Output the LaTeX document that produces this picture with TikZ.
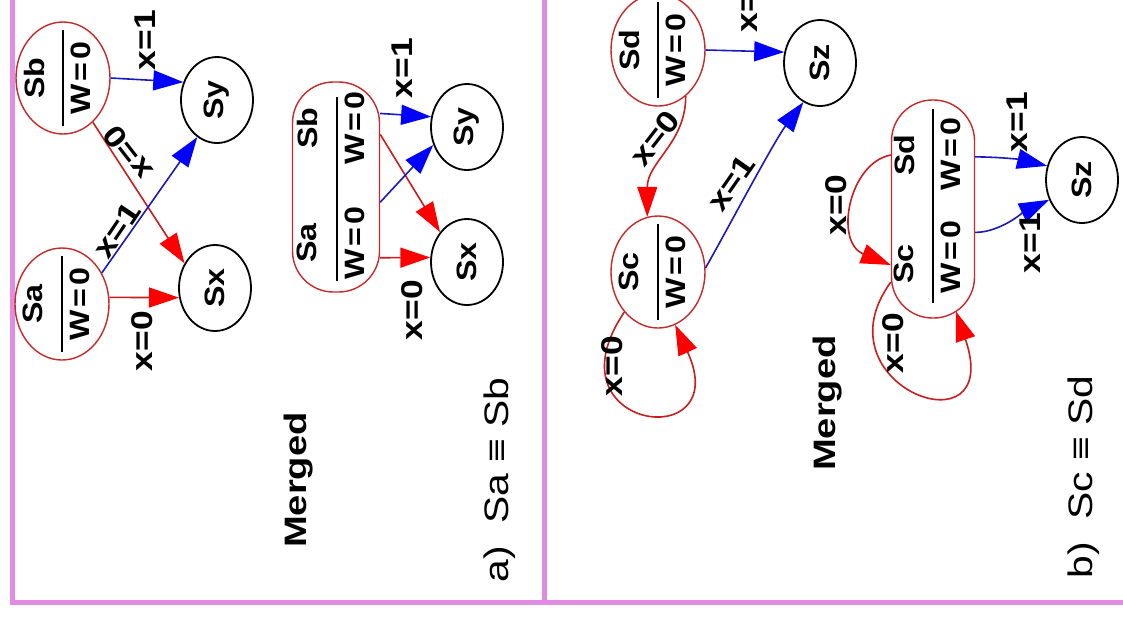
\documentclass[tikz,border=0pt]{standalone}
\usepackage{fontspec}
\setmainfont{Liberation Sans}
\usetikzlibrary{arrows.meta,shapes.geometric}

\definecolor{framec}{RGB}{225,140,225}
\definecolor{stred}{RGB}{200,40,40}
\definecolor{lnred}{RGB}{200,30,30}
\definecolor{lnblue}{RGB}{25,25,190}

\tikzset{
  stateR/.style={ellipse, draw=stred, line width=0.7pt, minimum width=47pt, minimum height=56pt, inner sep=0pt},
  stateK/.style={ellipse, draw=black, line width=0.9pt, minimum width=36pt, minimum height=43pt, inner sep=0pt},
  mergedbox/.style={rectangle, rounded corners=20.5pt, draw=stred, line width=0.7pt, inner sep=0pt},
  vlab/.style={rotate=90, xscale=1.15, font=\bfseries\fontsize{14}{16}\selectfont, inner sep=0pt},
  elab/.style={rotate=#1, xscale=1.18, font=\bfseries\fontsize{15}{17}\selectfont, inner sep=0pt},
  titlelab/.style={rotate=90, xscale=1.23, font=\bfseries\fontsize{15.5}{17}\selectfont, inner sep=0pt},
  caplab/.style={rotate=90, xscale=1.2, font=\fontsize{17}{19}\selectfont, inner sep=0pt},
  sepline/.style={line width=0.8pt},
  redge/.style={draw=lnred, line width=0.8pt, -{Triangle[length=15pt,width=10pt,color=red]}},
  bedge/.style={draw=lnblue, line width=0.8pt, -{Triangle[length=15pt,width=10pt,color=blue]}},
}

% output value written under a state name
\newcommand{\outval}{W\hspace{1.2pt}=\hspace{1.2pt}0}

% a state drawn as a circle with a name over the output value
\newcommand{\fracstate}[4]{%
  \node[stateR] (#1) at (#2,#3) {};
  \node[vlab] (#1-name) at ([xshift=-14.5pt]#1.center) {#4};
  \node[vlab] (#1-out) at ([xshift=9pt]#1.center) {\outval};
  \draw[sepline] ([yshift=24pt]#1.center) -- ([yshift=-24pt]#1.center);
}

\begin{document}
\begin{tikzpicture}[x=0.5pt,y=-0.5pt]
\useasboundingbox (0,0) rectangle (1123,618);
\clip (0,0) rectangle (1123,618);
\fill[white] (0,0) rectangle (1123,618);

% frame of the two panels
\draw[framec, line width=2.5pt] (12,-5) -- (12,602) -- (1130,602);
\draw[framec, line width=2.5pt] (544,-5) -- (544,602);

% ---------- panel a: before merging ----------
\fracstate{Sb}{63}{78}{Sb}
\fracstate{Sa}{62}{304}{Sa}
\node[stateK] (Sy) at (217,100) {};
\node[vlab] (Sy-name) at (Sy.center) {Sy};
\node[stateK] (Sx) at (215,288) {};
\node[vlab] (Sx-name) at (Sx.center) {Sx};

\draw[redge] (Sb.-56) -- (Sx.141);
\draw[redge] (Sa.8) -- (Sx.195);
\draw[bedge] (Sb.east) -- (Sy.152);
\draw[bedge] (Sa.38) -- (Sy.242);

\node[elab=90] (la1) at (145,40) {x=1};
\node[elab=56] (la2) at (117,230) {x=1};
\node[elab=128] (la3) at (128,153) {x=0};
\node[elab=90] (la4) at (142,341) {x=0};

% ---------- panel a: merged ----------
\node[mergedbox, minimum width=43.5pt, minimum height=105pt] (Mab) at (336,187) {};
\node[vlab] (Mab-a) at (307,243) {Sa};
\node[vlab] (Mab-b) at (307,128) {Sb};
\node[vlab] (Mab-wa) at (355,243) {\outval};
\node[vlab] (Mab-wb) at (355,128) {\outval};
\draw[sepline] ([xshift=0.5pt,yshift=45pt]Mab.center) -- ([xshift=0.5pt,yshift=-47pt]Mab.center);

\node[stateK] (Sy2) at (467,127) {};
\node[vlab] (Sy2-name) at (Sy2.center) {Sy};
\node[stateK] (Sx2) at (467,262) {};
\node[vlab] (Sx2-name) at (Sx2.center) {Sx};

\draw[redge] (Mab.50) -- (Sx2.132);
\draw[redge] (Mab.-58) -- (Sx2.173);
\draw[bedge] (Mab.59) -- (Sy2.164);
\draw[bedge] (Mab.-19) -- (Sy2.208);

\node[elab=90] (la5) at (402,68) {x=1};
\node[elab=90] (la6) at (412,310) {x=0};

\node[titlelab] (ta) at (299,480) {Merged};
\node[caplab] (ca) at (500,480) {a)\ \ Sa ≡ Sb};

% ---------- panel b: before merging ----------
\fracstate{Sd}{658}{50}{Sd}
\fracstate{Sc}{658}{272}{Sc}
\node[stateK] (Sz) at (820,63) {};
\node[vlab] (Sz-name) at (Sz.center) {Sz};

\draw[bedge] (Sd.east) -- (Sz.163);
\draw[redge] (Sd.-59) .. controls +(0,47) and +(0,-55) .. (Sc.101);
\draw[bedge] (Sc.5) .. controls +(20,-35) and +(-30,40) .. (Sz.247);
\draw[redge] (Sc.230) .. controls +(-80,118) and +(60,131) .. (Sc.288);

\node[elab=90] (lb1) at (747,2) {x=1};
\node[elab=52] (lb2) at (655,138) {x=0};
\node[elab=55] (lb3) at (731,183) {x=1};
\node[elab=90] (lb4) at (612,366) {x=0};

% ---------- panel b: merged ----------
\node[mergedbox, minimum width=41.5pt, minimum height=109pt] (Mcd) at (933,209) {};
\node[vlab] (Mcd-d) at (904,155) {Sd};
\node[vlab] (Mcd-c) at (904,264) {Sc};
\node[vlab] (Mcd-wd) at (951,154) {\outval};
\node[vlab] (Mcd-wc) at (951,257) {\outval};
\draw[sepline] ([yshift=50pt]Mcd.center) -- ([yshift=-47pt]Mcd.center);

\node[stateK] (Sz2) at (1082,180) {};
\node[vlab] (Sz2-name) at (Sz2.center) {Sz};

\draw[redge] (Mcd.128) .. controls +(-42,8) and +(-57,-23) .. (Mcd.233);
\draw[redge, shorten >=-4pt] (Mcd.240) .. controls +(-76,104) and +(47,137) .. (Mcd.-77);
\draw[bedge] (Mcd.51) .. controls +(25,0) and +(-25,-6) .. (Sz2.158);
\draw[bedge] (Mcd.-29) .. controls +(25,0) and +(-25,12) .. (Sz2.211);

\node[elab=90] (lb5) at (836,205) {x=0};
\node[elab=90] (lb6) at (893,343) {x=0};
\node[elab=90] (lb7) at (1017,122) {x=1};
\node[elab=90] (lb8) at (1030,243) {x=1};

\node[titlelab] (tb) at (828,403) {Merged};
\node[caplab] (cb) at (1084,477) {b)\ \ Sc ≡ Sd};
\end{tikzpicture}
\end{document}
